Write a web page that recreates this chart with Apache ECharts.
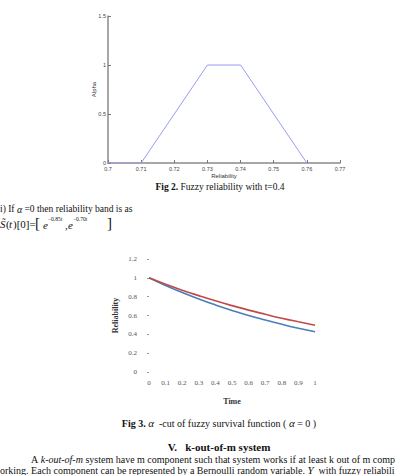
<!DOCTYPE html>
<html>
<head>
<meta charset="utf-8">
<script src="https://cdn.jsdelivr.net/npm/echarts@6/dist/echarts.min.js"></script>
<style>
html,body{margin:0;padding:0;background:#fff;}
#chart{width:408px;height:475px;}
</style>
</head>
<body>
<div id="chart"></div>
<script>
// Fig 2: fuzzy reliability membership (t = 0.4)
var fig2Reliability = [0.70, 0.71, 0.73, 0.74, 0.76];
var fig2Alpha = [0, 0, 1, 1, 0];
var fig2XTicks = [0.7, 0.71, 0.72, 0.73, 0.74, 0.75, 0.76, 0.77];
var fig2YTicks = [0, 0.5, 1, 1.5];

// Fig 3: alpha-cut (alpha = 0) of fuzzy survival function
var fig3Time = [0, 0.1, 0.2, 0.3, 0.4, 0.5, 0.6, 0.7, 0.8, 0.9, 1];
var fig3Lower = [1, 0.918, 0.844, 0.775, 0.712, 0.654, 0.600, 0.552, 0.507, 0.465, 0.427];
var fig3Upper = [1, 0.932, 0.869, 0.811, 0.756, 0.705, 0.657, 0.613, 0.571, 0.533, 0.497];
var fig3YTicks = [0, 0.2, 0.4, 0.6, 0.8, 1, 1.2];

function pairs(xs, ys){ return xs.map(function(x,i){ return [x, ys[i]]; }); }

var serif = '"Liberation Serif","Times New Roman",serif';
var sans = '"Liberation Sans",Arial,sans-serif';

function t(x, y, text, font, align){
  return {type:'text', x:x, y:y, style:{text:text, font:font, fill:'#111', align:align||'left', verticalAlign:'middle'}};
}

var chart = echarts.init(document.getElementById('chart'), null, {renderer:'svg'});
chart.setOption({
  backgroundColor:'#ffffff',
  animation:false,
  grid:[
    {left:108, right:68, top:16, bottom:312, containLabel:false},
    {left:149, right:93, top:259, bottom:103, containLabel:false}
  ],
  xAxis:[
    {gridIndex:0, type:'value', min:fig2XTicks[0], max:fig2XTicks[fig2XTicks.length-1], interval:0.01,
     name:'Reliability', nameLocation:'middle', nameGap:10, nameMoveOverlap:false,
     nameTextStyle:{fontFamily:sans, fontSize:6, color:'#333'},
     axisLine:{show:true, onZero:false, lineStyle:{color:'#8a8a8a', width:1.5}},
     axisTick:{show:true, inside:true, length:3, lineStyle:{color:'#777'}},
     axisLabel:{fontFamily:sans, fontSize:5.5, color:'#444', margin:3,
       formatter:function(v){ return String(Math.round(v*100)/100); }},
     splitLine:{show:false}},
    {gridIndex:1, type:'value', min:0, max:1, interval:0.1,
     name:'Time', nameLocation:'middle', nameGap:25,
     nameTextStyle:{fontFamily:serif, fontSize:8, fontWeight:'bold', color:'#333'},
     axisLine:{show:false}, axisTick:{show:false},
     axisLabel:{fontFamily:serif, fontSize:7, color:'#555', margin:7,
       formatter:function(v){ return String(Math.round(v*10)/10); }},
     splitLine:{show:false}}
  ],
  yAxis:[
    {gridIndex:0, type:'value', min:fig2YTicks[0], max:fig2YTicks[fig2YTicks.length-1], interval:0.5,
     name:'Alpha', nameLocation:'middle', nameGap:11, nameRotate:90, nameMoveOverlap:false,
     nameTextStyle:{fontFamily:sans, fontSize:6, color:'#333'},
     axisLine:{show:true, onZero:false, lineStyle:{color:'#8a8a8a', width:1.5}},
     axisTick:{show:true, inside:true, length:3, lineStyle:{color:'#777'}},
     axisLabel:{fontFamily:sans, fontSize:5.5, color:'#444', margin:2},
     splitLine:{show:false}},
    {gridIndex:1, type:'value', min:fig3YTicks[0], max:fig3YTicks[fig3YTicks.length-1], interval:0.2,
     offset:8,
     name:'Reliability', nameLocation:'middle', nameGap:22, nameRotate:90,
     nameTextStyle:{fontFamily:serif, fontSize:8, fontWeight:'bold', color:'#333'},
     axisLine:{show:false},
     axisTick:{show:true, length:2, lineStyle:{color:'#999'}},
     axisLabel:{fontFamily:serif, fontSize:7, color:'#555', margin:4},
     splitLine:{show:false}}
  ],
  series:[
    {type:'line', xAxisIndex:0, yAxisIndex:0, data:pairs(fig2Reliability, fig2Alpha),
     showSymbol:false, lineStyle:{color:'#9a9af5', width:1}, z:5},
    {type:'line', xAxisIndex:1, yAxisIndex:1, data:pairs(fig3Time, fig3Lower), smooth:true,
     showSymbol:false, lineStyle:{color:'#4a7ebb', width:1.6}},
    {type:'line', xAxisIndex:1, yAxisIndex:1, data:pairs(fig3Time, fig3Upper), smooth:true,
     showSymbol:false, lineStyle:{color:'#be4b48', width:1.6}}
  ],
  graphic:[
    {type:'text', x:220, y:187, style:{
      text:'{b|Fig 2.} Fuzzy reliability with t=0.4',
      font:'9.5px '+serif, fill:'#111', align:'center', verticalAlign:'middle',
      rich:{b:{fontWeight:'bold', fontFamily:serif, fontSize:9.5, fill:'#111'}}}},
    {type:'text', x:0, y:209, style:{
      text:'i) If {i|α} =0 then reliability band is as',
      font:'9.5px '+serif, fill:'#111', align:'left', verticalAlign:'middle',
      rich:{i:{fontStyle:'italic', fontFamily:serif, fontSize:10, fill:'#111'}}}},
    t(0, 224, 'S\u0303', 'italic 11px '+serif),
    t(6, 224, '(', '11px '+serif),
    t(9, 224, 't', 'italic 11px '+serif),
    t(13, 224, ')[0]=', '11px '+serif),
    t(35, 223, '[', '15px '+serif),
    t(43, 225, 'e', 'italic 11px '+serif),
    t(48, 219, '−0.85t', '5.5px '+serif),
    t(65, 225, ',', '11px '+serif),
    t(68, 225, 'e', 'italic 11px '+serif),
    t(73, 219, '−0.70t', '5.5px '+serif),
    t(107, 223, ']', '15px '+serif),
    {type:'text', x:219, y:423, style:{
      text:'{b|Fig 3.} {i|α}  -cut of fuzzy survival function ( {i|α} = 0 )',
      font:'10px '+serif, fill:'#111', align:'center', verticalAlign:'middle',
      rich:{b:{fontWeight:'bold', fontFamily:serif, fontSize:10, fill:'#111'},
            i:{fontStyle:'italic', fontFamily:serif, fontSize:11, fill:'#111'}}}},
    t(219, 447, 'V.   k-out-of-m system', 'bold 11px '+serif, 'center'),
    {type:'text', x:31, y:459, style:{
      text:'A {i|k-out-of-m} system have m component such that system works if at least k out of m comp',
      font:'10px '+serif, fill:'#111', align:'left', verticalAlign:'middle',
      rich:{i:{fontStyle:'italic', fontFamily:serif, fontSize:10, fill:'#111'}}}},
    {type:'text', x:0, y:470, style:{
      text:'orking. Each component can be represented by a Bernoulli random variable. {i|Y}  with fuzzy reliabili',
      font:'10px '+serif, fill:'#111', align:'left', verticalAlign:'middle',
      rich:{i:{fontStyle:'italic', fontFamily:serif, fontSize:11, fill:'#111'}}}}
  ]
});
</script>
</body>
</html>
